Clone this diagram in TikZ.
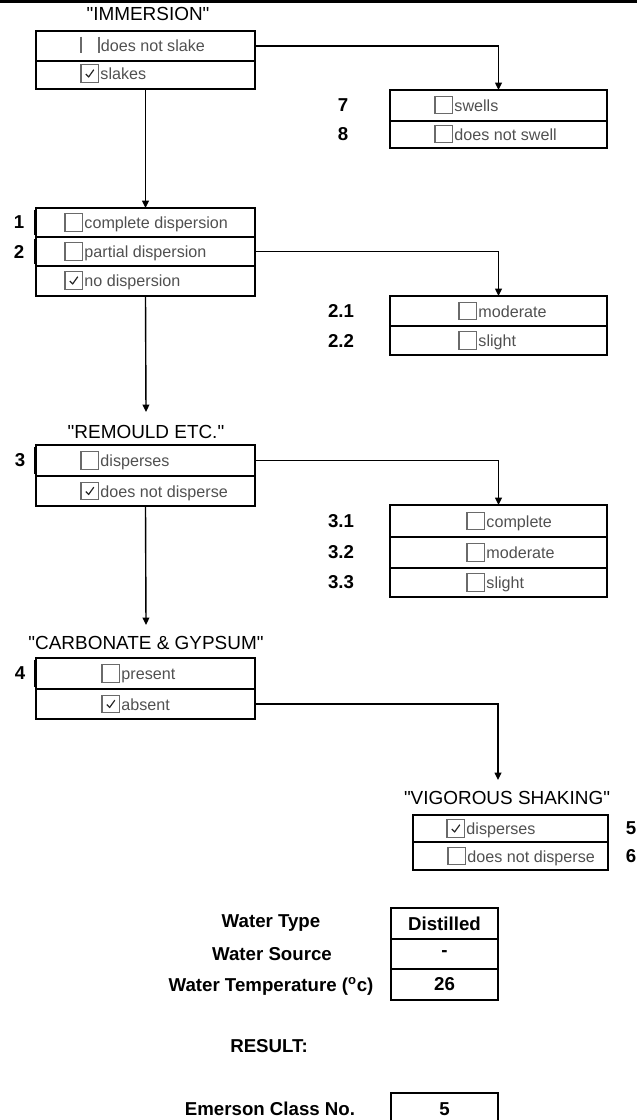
\documentclass[tikz,border=0pt]{standalone}
\usepackage{fontspec}
\setmainfont{Liberation Sans}[Ligatures=TeXOff]
\usetikzlibrary{arrows.meta,fit}
\definecolor{optgray}{HTML}{505050}
\definecolor{boxgray}{HTML}{6A6A6A}
\newcommand\qq{\symbol{34}}
\begin{document}
\begin{tikzpicture}[x=0.75pt,y=-0.75pt,
  rowbox/.style={draw=black, line width=1.5pt, inner sep=0pt, outer sep=0pt},
  cbox/.style={draw=boxgray, line width=0.8pt, minimum width=13.2pt, minimum height=13pt, inner sep=0pt, outer sep=0pt},
  cbroken/.style={draw=none, minimum width=13.5pt, minimum height=12.5pt, inner sep=0pt, outer sep=0pt},
  opt/.style={text=optgray, font=\fontsize{12.1}{14}\selectfont, inner xsep=1.2pt, inner ysep=0pt, anchor=base west, yshift=-4.6pt},
  ttl/.style={font=\fontsize{14.2}{16}\selectfont, inner sep=0pt},
  lab/.style={font=\fontsize{14}{16}\selectfont\bfseries, inner sep=0pt},
  conn/.style={draw=black, line width=1.05pt},
  arr/.style={conn, -{Triangle[length=5.5pt,width=5pt]}},
  leftbar/.style={line width=1.1pt, black},
  checkmark/.pic={\draw[line width=0.9pt, black!85, line join=round] (-4,0.5) -- (-1.2,3.5) -- (4,-3.8);}
]
\useasboundingbox (0,0) rectangle (637,1120);
\clip (0,0) rectangle (637,1120);
% top bar
\fill[black] (0,0) rectangle (637,3);

% ---------- IMMERSION ----------
\node[ttl] (tImm) at (148,14) {\qq IMMERSION\qq};
\node[rowbox, fit={(36,31) (255,61)}] (imm1) {};
\node[rowbox, fit={(36,61) (255,89)}] (imm2) {};
\node[cbroken, anchor=west] (cb0) at (81,45) {};
\draw[boxgray, line width=0.9pt] (cb0.north west) -- (cb0.south west);
\draw[boxgray, line width=0.9pt] (cb0.north east) -- (cb0.south east);
\node[opt] at (cb0.east) {does not slake};
\node[cbox, anchor=west] (cbi2) at (81,73.5) {};
\pic at (cbi2) {checkmark};
\node[opt] at (cbi2.east) {slakes};

% ---------- 7 / 8 ----------
\node[rowbox, fit={(390,90) (607,121)}] (s7) {};
\node[rowbox, fit={(390,121) (607,148)}] (s8) {};
\node[lab] at (343,105.5) {7};
\node[lab] at (343,134.5) {8};
\node[cbox, anchor=west] (cb7) at (435,105) {};
\node[opt] at (cb7.east) {swells};
\node[cbox, anchor=west] (cb8) at (435,134) {};
\node[opt] at (cb8.east) {does not swell};

% ---------- DISPERSION ----------
\node[rowbox, fit={(36,208) (255,237)}] (d1) {};
\node[rowbox, fit={(36,237) (255,266)}] (d2) {};
\node[rowbox, fit={(36,266) (255,296)}] (d3) {};
\draw[leftbar] (34.3,210) -- (34.3,235);
\draw[leftbar] (34.3,239) -- (34.3,264);
\node[lab] at (19,222.5) {1};
\node[lab] at (19,251.5) {2};
\node[cbox, anchor=west] (cbd1) at (65,222.5) {};
\node[opt] at (cbd1.east) {complete dispersion};
\node[cbox, anchor=west] (cbd2) at (65,251.5) {};
\node[opt] at (cbd2.east) {partial dispersion};
\node[cbox, anchor=west] (cbd3) at (65,280.5) {};
\pic at (cbd3) {checkmark};
\node[opt] at (cbd3.east) {no dispersion};

% ---------- 2.1 / 2.2 ----------
\node[rowbox, fit={(390,296) (607,326)}] (m21) {};
\node[rowbox, fit={(390,326) (607,355)}] (m22) {};
\node[lab] at (341,311) {2.1};
\node[lab] at (341,340.5) {2.2};
\node[cbox, anchor=west] (cbm1) at (459,311) {};
\node[opt] at (cbm1.east) {moderate};
\node[cbox, anchor=west] (cbm2) at (459,340.5) {};
\node[opt] at (cbm2.east) {slight};

% ---------- REMOULD ----------
\node[ttl] (tRem) at (146,432) {\qq REMOULD ETC.\qq};
\node[rowbox, fit={(36,445) (255,476)}] (r1) {};
\node[rowbox, fit={(36,476) (255,506)}] (r2) {};
\draw[leftbar] (34.3,447) -- (34.3,474);
\node[lab] at (20,460.5) {3};
\node[cbox, anchor=west] (cbr1) at (81,460.5) {};
\node[opt] at (cbr1.east) {disperses};
\node[cbox, anchor=west] (cbr2) at (81,491) {};
\pic at (cbr2) {checkmark};
\node[opt] at (cbr2.east) {does not disperse};

% ---------- 3.1 - 3.3 ----------
\node[rowbox, fit={(390,505) (607,537)}] (c31) {};
\node[rowbox, fit={(390,537) (607,568)}] (c32) {};
\node[rowbox, fit={(390,568) (607,597)}] (c33) {};
\node[lab] at (341,521) {3.1};
\node[lab] at (341,552.5) {3.2};
\node[lab] at (341,582.5) {3.3};
\node[cbox, anchor=west] (cbc1) at (467,521) {};
\node[opt] at (cbc1.east) {complete};
\node[cbox, anchor=west] (cbc2) at (467,552.5) {};
\node[opt] at (cbc2.east) {moderate};
\node[cbox, anchor=west] (cbc3) at (467,582.5) {};
\node[opt] at (cbc3.east) {slight};

% ---------- CARBONATE ----------
\node[ttl] (tCarb) at (146,643) {\qq CARBONATE \& GYPSUM\qq};
\node[rowbox, fit={(36,658) (255,689)}] (k1) {};
\node[rowbox, fit={(36,689) (255,719)}] (k2) {};
\draw[leftbar] (34.3,660) -- (34.3,687);
\node[lab] at (20,673.5) {4};
\node[cbox, anchor=west] (cbk1) at (102,673.5) {};
\node[opt] at (cbk1.east) {present};
\node[cbox, anchor=west] (cbk2) at (102,704) {};
\pic at (cbk2) {checkmark};
\node[opt] at (cbk2.east) {absent};

% ---------- VIGOROUS SHAKING ----------
\node[ttl] (tVig) at (507,798) {\qq VIGOROUS SHAKING\qq};
\node[rowbox, fit={(413,815) (608,842)}] (v1) {};
\node[rowbox, fit={(413,842) (608,870)}] (v2) {};
\node[lab] at (631,828.5) {5};
\node[lab] at (631,856) {6};
\node[cbox, anchor=west] (cbv1) at (447,828.5) {};
\pic at (cbv1) {checkmark};
\node[opt] at (cbv1.east) {disperses};
\node[cbox, anchor=west] (cbv2) at (448,856) {};
\node[opt] at (cbv2.east) {does not disperse};

% ---------- WATER TABLE ----------
\node[rowbox, fit={(391,908) (498,939)}] (w1) {};
\node[rowbox, fit={(391,939) (498,969)}] (w2) {};
\node[rowbox, fit={(391,969) (498,1000)}] (w3) {};
\node[lab] at (w1.center) {Distilled};
\node[lab] at (w2.center) {-};
\node[lab] at (w3.center) {26};
\node[lab] (lw1) at (271,923.5) {Water Type};
\node[lab] (lw2) at (272,954) {Water Source};
\node[lab] (lw3) at (271,986) {Water Temperature (\textsuperscript{o}c)};
\node[lab] (lres) at (269,1046) {RESULT:};
\node[rowbox, fit={(391,1093) (498,1128)}] (e1) {};
\node[lab] at (444.5,1109) {5};
\node[lab] (lem) at (270,1109) {Emerson Class No.};

% ---------- connectors ----------
\coordinate (aRem) at (146,412);
\coordinate (aCarb) at (146,625);
\coordinate (aVig) at (498,780);
\draw[arr] (imm1.east) -| (s7.north);
\draw[arr] (imm2.south) -- (d1.north);
\draw[arr] (d2.east) -| (m21.north);
\draw[arr] (d3.south) -- (aRem);
\draw[arr] (r1.east) -| (c31.north);
\draw[arr] (r2.south) -- (aCarb);
\draw[arr] (k2.east) -| (aVig);
\end{tikzpicture}
\end{document}
